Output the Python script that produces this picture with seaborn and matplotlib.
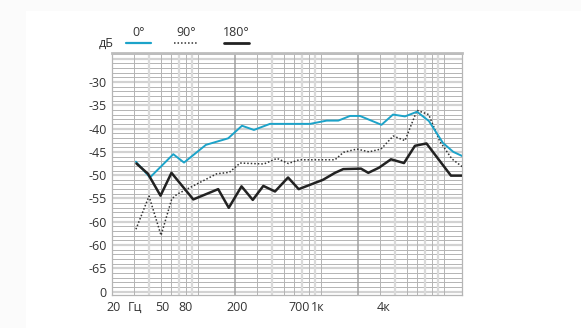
import numpy as np
import pandas as pd
import seaborn as sns
import matplotlib.pyplot as plt
from matplotlib.lines import Line2D
from matplotlib.patches import Rectangle

# Frequency response data (Hz, dB)
freq_0 = [31.3, 40.7, 63, 77, 116, 176, 228, 285, 385, 815, 1113, 1384, 1722,
          2076, 3105, 3853, 4820, 6040, 7550, 9820, 11900, 14100]
db_0 = [-47.1, -50.5, -45.5, -47.3, -43.5, -42.1, -39.4, -40.3, -39.0, -39.0,
        -38.3, -38.3, -37.3, -37.3, -39.2, -37.0, -37.4, -36.4, -38.4, -43.1,
        -45.0, -45.9]

freq_90 = [31.3, 40.0, 50.1, 61.2, 67.5, 91.6, 142, 180, 220, 344, 439, 543,
           663, 1300, 1524, 1963, 2458, 3076, 3872, 4820, 6040, 7510, 9284,
           11600, 14100]
db_90 = [-61.6, -54.5, -62.9, -55.1, -54.1, -52.3, -49.7, -49.4, -47.4, -47.6,
         -46.4, -47.5, -46.7, -46.7, -45.1, -44.4, -45.0, -44.4, -41.6, -42.6,
         -36.1, -37.0, -42.8, -46.5, -48.2]

freq_180 = [31.6, 39.2, 49.6, 60.9, 91.6, 146, 178, 226, 279, 340, 423, 540,
            659, 1038, 1300, 1518, 2116, 2426, 2963, 3708, 4732, 5810, 7210,
            11400, 14100]
db_180 = [-47.5, -49.7, -54.4, -49.5, -55.2, -53.0, -57.0, -52.4, -55.3, -52.3,
          -53.5, -50.5, -53.0, -51.0, -49.5, -48.7, -48.6, -49.5, -48.4, -46.6,
          -47.4, -43.7, -43.2, -50.1, -50.1]

series_labels = ['0°', '90°', '180°']

# tick labels as printed in the original (positions do not follow a clean scale)
x_tick_pos = [20.7, 30.6, 51, 78.5, 210, 662, 946, 3220]
x_tick_labels = ['20', 'Гц', '50', '80', '200', '700', '1к', '4к']
y_tick_pos = [-30, -35, -40, -45, -50, -55, -60, -65, -70, -75]
y_tick_labels = ['-30', '-35', '-40', '-45', '-50', '-55', '-60', '-60', '-65', '0']

CYAN = '#1ca3c9'
BLACK = '#222222'
DOTS = '#333333'

sns.set_style('white')
plt.rcParams['font.family'] = ['Open Sans', 'DejaVu Sans']

fig = plt.figure(figsize=(5.81, 3.28), dpi=100)
fig.patch.set_facecolor('#fbfbfb')
fig.add_artist(Rectangle((0.045, 0), 1, 1 - 11 / 328, transform=fig.transFigure,
                         facecolor='white', edgecolor='none', zorder=-10))

ax = fig.add_axes([112 / 581, 1 - 295 / 328, 350.3 / 581, 242 / 328])
ax.set_facecolor('white')
ax.set_xscale('log')
ax.set_xlim(20, 14100)
ax.set_ylim(-75.7, -23.8)

# grid: horizontal every 1 dB, heavier light band every 5 dB
for v in range(-75, -23):
    if v % 5 == 0:
        ax.axhline(v, color='#d2d2d2', lw=1.6, zorder=1)
    else:
        ax.axhline(v, color='#b4b4b4', lw=0.7, zorder=1)

# vertical grid: 1.5x..5x of each decade start (20, 200, 2000)
for base in [20, 200, 2000]:
    for m in [1.5, 2, 2.5, 3, 3.5, 4, 4.5, 5]:
        f = base * m
        if f > 14100:
            continue
        if m in (2, 3.5, 4.5):
            ax.axvline(f, color='#dadada', lw=1.6, zorder=1)
        else:
            ax.axvline(f, color='#b4b4b4', lw=0.7, zorder=1)
for f in [200, 2000]:
    ax.axvline(f, color='#a0a0a0', lw=1.1, zorder=1)

df0 = pd.DataFrame({'f': freq_0, 'db': db_0})
df90 = pd.DataFrame({'f': freq_90, 'db': db_90})
df180 = pd.DataFrame({'f': freq_180, 'db': db_180})

sns.lineplot(data=df90, x='f', y='db', ax=ax, color=DOTS, lw=1.1,
             linestyle=(0, (1, 1.3)), estimator=None, zorder=3)
sns.lineplot(data=df0, x='f', y='db', ax=ax, color=CYAN, lw=1.4,
             estimator=None, zorder=4)
sns.lineplot(data=df180, x='f', y='db', ax=ax, color=BLACK, lw=1.8,
             estimator=None, zorder=5)

ax.set_xticks(x_tick_pos)
ax.set_xticklabels(x_tick_labels)
ax.xaxis.set_minor_locator(plt.NullLocator())
ax.set_yticks(y_tick_pos)
ax.set_yticklabels(y_tick_labels)
ax.tick_params(axis='both', length=0, labelsize=9, colors='#333333')
ax.tick_params(axis='x', pad=4)
ax.tick_params(axis='y', pad=4)
ax.set_xlabel('')
ax.set_ylabel('')

for side in ['left', 'right', 'bottom']:
    ax.spines[side].set_color('#b5b5b5')
    ax.spines[side].set_linewidth(0.9)
ax.spines['top'].set_color('#bdbdbd')
ax.spines['top'].set_linewidth(2.0)

# legend: label above a short sample line
def fx(px):
    return px / 581

def fy(py):
    return 1 - py / 328

fig.text(fx(106), fy(43), 'дБ', ha='center', va='center', fontsize=9, color='#333333')
legend_x = [(126, 151), (174, 198), (224, 249)]
legend_style = [dict(color=CYAN, lw=1.6),
                dict(color=DOTS, lw=1.1, linestyle=(0, (1, 1.3))),
                dict(color=BLACK, lw=2.0)]
for (x0, x1), lab, st in zip(legend_x, series_labels, legend_style):
    fig.add_artist(Line2D([fx(x0), fx(x1)], [fy(43), fy(43)],
                          transform=fig.transFigure, **st))
    fig.text(fx((x0 + x1) / 2), fy(32), lab, ha='center', va='center',
             fontsize=9, color='#333333')

fig.savefig('out.png', dpi=100)
